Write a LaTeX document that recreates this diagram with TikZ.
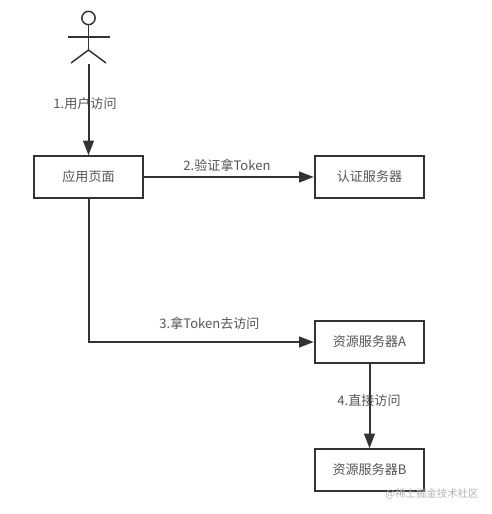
\documentclass[tikz,border=0pt]{standalone}
\usepackage{fontspec}
\setmainfont{Noto Sans CJK SC}
\usetikzlibrary{arrows.meta}
\definecolor{linegray}{HTML}{333333}
\definecolor{textgray}{HTML}{555555}
\tikzset{
    serverbox/.style={draw=linegray, line width=1.5pt, fill=white, minimum width=82pt, minimum height=31pt, inner sep=0pt, text=textgray, font=\fontsize{9.8}{12}\selectfont},
    steplabel/.style={text=textgray, inner sep=0pt, font=\fontsize{9.8}{12}\selectfont},
    flowline/.style={draw=linegray, line width=1.5pt, -{Triangle[length=11pt, width=8pt]}},
    actorline/.style={draw=linegray, line width=1.1pt}
}
\begin{document}
\begin{tikzpicture}[x=0.75pt, y=-0.75pt]
    \useasboundingbox (0,0) rectangle (492,514);

    % Actor
    \node[circle, draw=linegray, line width=1.1pt, minimum size=10pt, inner sep=0pt] (head) at (88.5,18) {};
    \coordinate (hip) at (88.5,50);
    \coordinate (armL) at (68,37);
    \coordinate (armR) at (110,37);
    \coordinate (legL) at (71,63);
    \coordinate (legR) at (106,63);
    \coordinate (feet) at (88.5,64);
    \draw[actorline] (head.south) -- (hip);
    \draw[actorline] (armL) -- (armR);
    \draw[actorline] (legL) -- (hip) -- (legR);

    % Boxes
    \node[serverbox] (app) at (88.5,177) {应用页面};
    \node[serverbox] (auth) at (369.5,177) {认证服务器};
    \node[serverbox] (resA) at (369.5,342) {资源服务器A};
    \node[serverbox] (resB) at (369.5,470) {资源服务器B};

    % Labels
    \node[steplabel] (visit) at (85,104) {1.用户访问};
    \node[steplabel] (verify) at (227,165) {2.验证拿Token};
    \node[steplabel] (access) at (209.5,323) {3.拿Token去访问};
    \node[steplabel] (direct) at (369,401) {4.直接访问};

    % Arrows
    \draw[flowline] (feet) -- (app.north);
    \draw[flowline] (app.east) -- (auth.west);
    \draw[flowline] (app.south) |- (resA.west);
    \draw[flowline] (resA.south) -- (resB.north);

    % Watermark
    \node[text=black!30, inner sep=0pt, font=\fontsize{7.8}{9}\selectfont] (mark) at (432,494) {@稀土掘金技术社区};
\end{tikzpicture}
\end{document}
